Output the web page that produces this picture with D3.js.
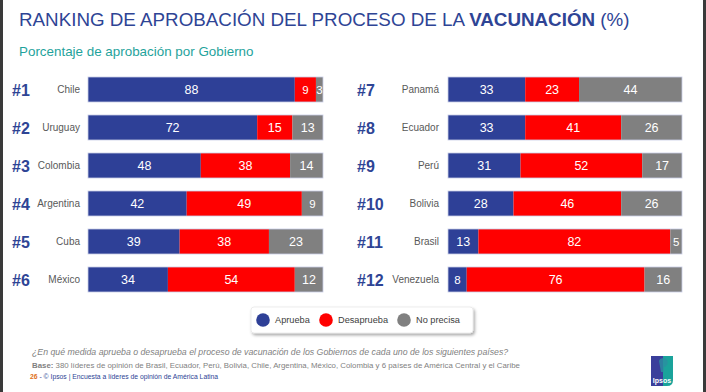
<!DOCTYPE html>
<html>
<head>
<meta charset="utf-8">
<script src="https://cdn.jsdelivr.net/npm/d3@7"></script>
<style>
  html, body { margin: 0; padding: 0; background: #ffffff; }
  svg { display: block; }
</style>
</head>
<body>
<svg id="chart" width="706" height="392"></svg>
<script>
// ---- data ----
const countriesLeft = ["Chile", "Uruguay", "Colombia", "Argentina", "Cuba", "México"];
const countriesRight = ["Panamá", "Ecuador", "Perú", "Bolivia", "Brasil", "Venezuela"];
const ranksLeft = ["#1", "#2", "#3", "#4", "#5", "#6"];
const ranksRight = ["#7", "#8", "#9", "#10", "#11", "#12"];
const apruebaLeft = [88, 72, 48, 42, 39, 34];
const desapruebaLeft = [9, 15, 38, 49, 38, 54];
const noPrecisaLeft = [3, 13, 14, 9, 23, 12];
const apruebaRight = [33, 33, 31, 28, 13, 8];
const desapruebaRight = [23, 41, 52, 46, 82, 76];
const noPrecisaRight = [44, 26, 17, 26, 5, 16];
const seriesNames = ["Aprueba", "Desaprueba", "No precisa"];
const seriesColors = ["#2e4097", "#ff0000", "#808080"];

const svg = d3.select("#chart");
const FONT = "'Liberation Sans', Arial, sans-serif";

// frame borders
svg.append("rect").attr("x", 0).attr("y", 0).attr("width", 3).attr("height", 392).attr("fill", "#3a3a3a");
svg.append("rect").attr("x", 703).attr("y", 0).attr("width", 3).attr("height", 392).attr("fill", "#3a3a3a");

// title
const title = svg.append("text").attr("x", 19).attr("y", 26)
  .attr("font-family", FONT).attr("font-size", 18.8).attr("fill", "#2e4495");
title.append("tspan").text("RANKING DE APROBACIÓN DEL PROCESO DE LA ");
title.append("tspan").attr("font-weight", "bold").text("VACUNACIÓN");
title.append("tspan").text(" (%)");

svg.append("text").attr("x", 19).attr("y", 56)
  .attr("font-family", FONT).attr("font-size", 13.4).attr("fill", "#1fa39c")
  .text("Porcentaje de aprobación por Gobierno");

// panels
function buildRows(countries, ranks, a, d, n) {
  return countries.map((c, i) => ({ country: c, rank: ranks[i], vals: [a[i], d[i], n[i]] }));
}
const panels = [
  { rows: buildRows(countriesLeft, ranksLeft, apruebaLeft, desapruebaLeft, noPrecisaLeft),
    xRange: [88, 323], rankX: 12, labelX: 80 },
  { rows: buildRows(countriesRight, ranksRight, apruebaRight, desapruebaRight, noPrecisaRight),
    xRange: [448, 682], rankX: 357, labelX: 439 }
];

const y = d3.scalePoint().domain(d3.range(6)).range([89.5, 279.5]);
const barH = 25;

panels.forEach(p => {
  const x = d3.scaleLinear().domain([0, 100]).range(p.xRange);
  const g = svg.append("g");
  p.rows.forEach((r, i) => {
    const cy = y(i);
    g.append("text").attr("x", p.rankX).attr("y", cy + 6)
      .attr("font-family", FONT).attr("font-weight", "bold").attr("font-size", 16)
      .attr("fill", "#2e4495").text(r.rank);
    g.append("text").attr("x", p.labelX).attr("y", cy + 3.5).attr("text-anchor", "end")
      .attr("font-family", FONT).attr("font-size", 10).attr("fill", "#595959").text(r.country);
    let cum = 0;
    r.vals.forEach((v, k) => {
      const x0 = x(cum), x1 = x(cum + v);
      g.append("rect").attr("x", x0).attr("y", cy - barH / 2)
        .attr("width", x1 - x0).attr("height", barH)
        .attr("fill", seriesColors[k]);
      const small = v < 10;
      g.append("text").attr("x", (x0 + x1) / 2).attr("y", cy + 4.5)
        .attr("text-anchor", "middle").attr("font-family", FONT)
        .attr("font-size", small ? 11.5 : 12.5).attr("fill", "#ffffff").text(v);
      cum += v;
    });
    // light outline around bar
    g.append("rect").attr("x", x(0)).attr("y", cy - barH / 2)
      .attr("width", x(100) - x(0)).attr("height", barH)
      .attr("fill", "none").attr("stroke", "#c9cde6").attr("stroke-width", 0.8);
  });
});

// legend
const defs = svg.append("defs");
const f = defs.append("filter").attr("id", "sh").attr("x", "-10%").attr("y", "-30%").attr("width", "130%").attr("height", "180%");
f.append("feDropShadow").attr("dx", 1.5).attr("dy", 2).attr("stdDeviation", 1.5).attr("flood-color", "#000").attr("flood-opacity", 0.35);
svg.append("rect").attr("x", 251).attr("y", 307).attr("width", 222).attr("height", 26)
  .attr("rx", 3).attr("fill", "#ffffff").attr("stroke", "#e0e0e0").attr("stroke-width", 0.6)
  .attr("filter", "url(#sh)");
const legX = [263, 326, 404];
seriesNames.forEach((s, k) => {
  svg.append("circle").attr("cx", legX[k]).attr("cy", 320).attr("r", 6.8).attr("fill", seriesColors[k]);
  svg.append("text").attr("x", legX[k] + 12).attr("y", 323.3)
    .attr("font-family", FONT).attr("font-size", 9.2).attr("fill", "#404040").text(s);
});

// footer
svg.append("text").attr("x", 32).attr("y", 355)
  .attr("font-family", FONT).attr("font-style", "italic").attr("font-size", 8.75).attr("fill", "#7f7f7f")
  .text("¿En qué medida aprueba o desaprueba el proceso de vacunación de los Gobiernos de cada uno de los siguientes países?");
const base = svg.append("text").attr("x", 32).attr("y", 367.5)
  .attr("font-family", FONT).attr("font-size", 7.85).attr("fill", "#7f7f7f");
base.append("tspan").attr("font-weight", "bold").text("Base:");
base.append("tspan").text(" 380 líderes de opinión de Brasil, Ecuador, Perú, Bolivia, Chile, Argentina, México, Colombia y 6 países de América Central y el Caribe");
const ft = svg.append("text").attr("x", 30).attr("y", 379)
  .attr("font-family", FONT).attr("font-size", 6.8).attr("fill", "#2e4495");
ft.append("tspan").attr("font-weight", "bold").attr("fill", "#e07020").text("26");
ft.append("tspan").text(" -   © Ipsos | Encuesta a líderes de opinión de América Latina");

// logo
const lg = defs.append("linearGradient").attr("id", "lg").attr("x1", 0).attr("x2", 1).attr("y1", 0).attr("y2", 0);
lg.append("stop").attr("offset", "0%").attr("stop-color", "#3a3f9b");
lg.append("stop").attr("offset", "55%").attr("stop-color", "#3a3f9b");
lg.append("stop").attr("offset", "56%").attr("stop-color", "#1aa39b");
lg.append("stop").attr("offset", "100%").attr("stop-color", "#1aa39b");
svg.append("path").attr("d", "M651,356 L673,356 L673,380 Q673,386 667,386 L651,386 Z").attr("fill", "url(#lg)");
svg.append("path").attr("d", "M659,361 a4.5,4.5 0 1 1 5,6 l0,5 l-3,0 z").attr("fill", "#2a8fa0").attr("opacity", 0.8);
svg.append("text").attr("x", 662).attr("y", 383).attr("text-anchor", "middle")
  .attr("font-family", FONT).attr("font-weight", "bold").attr("font-size", 7).attr("fill", "#ffffff").text("Ipsos");
</script>
</body>
</html>
